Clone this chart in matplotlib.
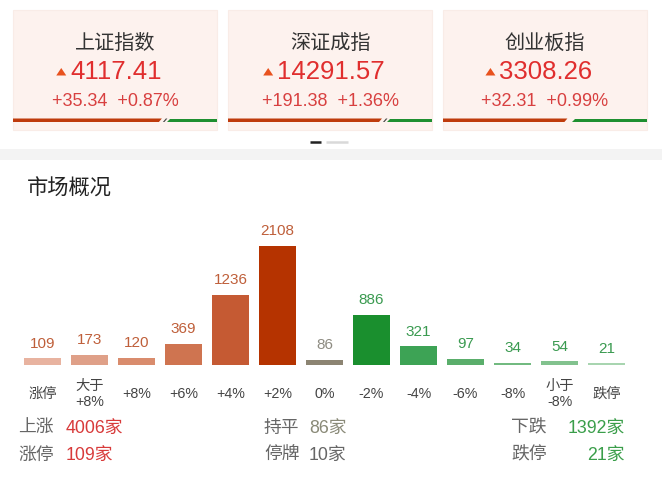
import matplotlib
matplotlib.use("Agg")
import matplotlib.pyplot as plt
from matplotlib.patches import Rectangle, Polygon
from matplotlib.transforms import blended_transform_factory

plt.rcParams['font.family'] = ['Liberation Sans', 'Noto Sans CJK SC', 'DejaVu Sans']

# ---------------- data ----------------
index_names = ["上证指数", "深证成指", "创业板指"]
index_values = ["4117.41", "14291.57", "3308.26"]
index_changes = ["+35.34", "+191.38", "+32.31"]
index_pcts = ["+0.87%", "+1.36%", "+0.99%"]
index_up_share = [0.72, 0.745, 0.60]

categories = ["涨停", "大于\n+8%", "+8%", "+6%", "+4%", "+2%", "0%",
              "-2%", "-4%", "-6%", "-8%", "小于\n-8%", "跌停"]
counts = [109, 173, 120, 369, 1236, 2108, 86, 886, 321, 97, 34, 54, 21]
bar_colors = ["#e8b3a0", "#dfa088", "#d98c6d", "#cf7450", "#c55a33", "#b53300",
              "#8c8472", "#1a8f2e", "#3da355", "#5aae6b", "#72ba80", "#82c28e", "#a8d5b0"]
label_colors = ["#bf5f3a"] * 6 + ["#8e8c82"] + ["#3a9a50"] * 6

summary_left = [("上涨", "4006家"), ("涨停", "109家")]
summary_mid = [("持平", "86家"), ("停牌", "10家")]
summary_right = [("下跌", "1392家"), ("跌停", "21家")]

# ---------------- figure ----------------
W, H = 662, 484
fig = plt.figure(figsize=(W / 100, H / 100), dpi=100)
fig.patch.set_facecolor("white")

ov = fig.add_axes([0, 0, 1, 1])
ov.set_xlim(0, W)
ov.set_ylim(H, 0)
ov.axis("off")

RED = "#e02e2e"

# index cards
card_x = [13, 228, 443]
card_w = 204
value_texts = []
for i in range(3):
    x0 = card_x[i]
    cx = x0 + card_w / 2
    ov.add_patch(Rectangle((x0, 10), card_w, 120, facecolor="#fdf2ee",
                           edgecolor="#f9ece7", lw=0.8, zorder=1))
    ov.text(cx, 43, index_names[i], ha="center", va="center", fontsize=14.5,
            color="#333333", zorder=3)
    t = ov.text(cx + 1, 72, index_values[i], ha="center", va="center",
                fontsize=18.5, color=RED, zorder=3)
    value_texts.append(t)
    ov.text(cx, 101, index_changes[i] + "  " + index_pcts[i], ha="center",
            va="center", fontsize=13, color="#d84040", zorder=3)
    # bottom split bar
    split = x0 + card_w * index_up_share[i]
    y1, y2 = 118.5, 122
    ov.add_patch(Polygon([(x0, y1), (split + 2, y1), (split - 1, y2), (x0, y2)],
                         closed=True, facecolor="#bf3b0c", edgecolor="none", zorder=3))
    ov.add_patch(Polygon([(split + 10, y1), (x0 + card_w, y1), (x0 + card_w, y2),
                          (split + 7, y2)], closed=True, facecolor="#1e8f30",
                         edgecolor="none", zorder=3))
    if i < 2:
        ov.add_patch(Polygon([(split + 6, y1), (split + 7.5, y1), (split + 4.5, y2),
                              (split + 3, y2)], closed=True, facecolor="#444444",
                             edgecolor="none", zorder=3))

# triangles placed just left of each value
fig.canvas.draw()
renderer = fig.canvas.get_renderer()
inv = ov.transData.inverted()
for t in value_texts:
    bb = t.get_window_extent(renderer)
    left = inv.transform((bb.x0, bb.y0))[0]
    tx = left - 9
    ov.add_patch(Polygon([(tx - 5, 75.5), (tx + 5, 75.5), (tx, 68)], closed=True,
                         facecolor="#e8521e", edgecolor="none", zorder=3))

# pagination
ov.plot([310, 321], [141.5, 141.5], color="#222222", lw=1.8, solid_capstyle="butt")
ov.plot([326, 348], [141.5, 141.5], color="#d9d9d9", lw=1.8, solid_capstyle="butt")

# separator band
ov.add_patch(Rectangle((0, 149), W, 11, facecolor="#f3f3f3", edgecolor="none"))

# section title
ov.text(27, 189, "市场概况", ha="left", va="center", fontsize=15.3, color="#222222")

# ---------------- bar chart ----------------
base_px, top_px = 364.5, 160
ax = fig.add_axes([0, (H - base_px) / H, 1, (base_px - top_px) / H])
ax.patch.set_visible(False)
ax.axis("off")
pitch = 47
ax.set_xlim(-42.5 / pitch, (W - 42.5) / pitch)
ymax = max(counts) * (base_px - top_px) / (base_px - 246)
ax.set_ylim(0, ymax)

xs = list(range(len(counts)))
ax.bar(xs, counts, width=37 / pitch, color=bar_colors, edgecolor="none")
for x, v, c in zip(xs, counts, label_colors):
    ax.annotate(str(v), (x, v), xytext=(0, 7.6), textcoords="offset points",
                ha="center", va="baseline", fontsize=11, color=c)

tr = blended_transform_factory(ax.transData, ov.transData)
for x, lab in zip(xs, categories):
    ov.text(x, 394, lab, transform=tr, ha="center", va="center", fontsize=10.3,
            color="#444444", linespacing=1.15)

# ---------------- summary ----------------
rows_y = [428, 455]
fs = 12.8
for (lab, val), y in zip(summary_left, rows_y):
    ov.text(18, y, lab, ha="left", va="center", fontsize=fs, color="#666666")
    ov.text(66, y, val, ha="left", va="center", fontsize=fs, color="#d83a3a")
mid_colors = ["#8a8a78", "#666666"]
for (lab, val), y, c in zip(summary_mid, rows_y, mid_colors):
    ov.text(264, y, lab, ha="left", va="center", fontsize=fs, color="#666666")
    ov.text(309, y, val, ha="left", va="center", fontsize=fs, color=c)
for (lab, val), y in zip(summary_right, rows_y):
    ov.text(511, y, lab, ha="left", va="center", fontsize=fs, color="#666666")
    ov.text(625, y, val, ha="right", va="center", fontsize=fs, color="#3a9e4a")

fig.savefig("out.png", dpi=100, facecolor="white")
